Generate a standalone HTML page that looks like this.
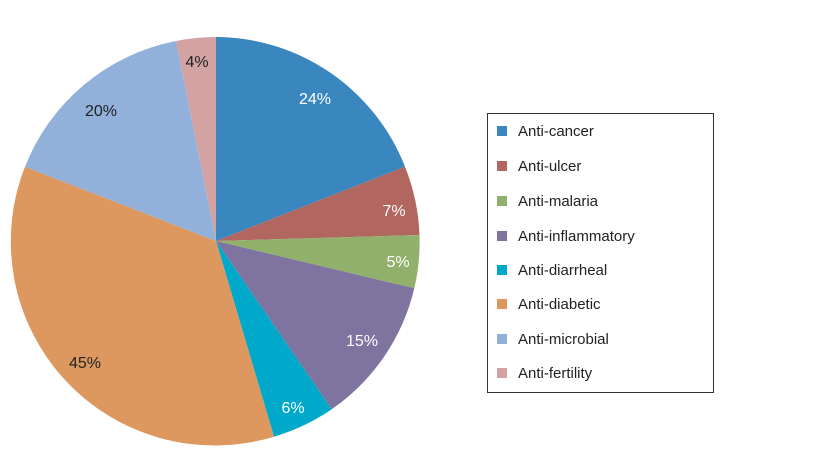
<!DOCTYPE html>
<html><head><style>
body{margin:0;background:#fff;}
svg{display:block;}
text{font-family:"Liberation Sans",Arial,sans-serif;}
</style></head><body>
<svg width="816" height="454" viewBox="0 0 816 454">
<g stroke="none">
<path d="M216,241 L216,37 A204,204 0 0 1 405,166.7 Z" fill="#3a87bf"/>
<path d="M216,241 L405,166.7 A204,204 0 0 1 419.5,235 Z" fill="#b1665f"/>
<path d="M216,241 L419.5,235 A204,204 0 0 1 414.3,288.3 Z" fill="#90b06b"/>
<path d="M216,241 L414.3,288.3 A204,204 0 0 1 331.7,409.3 Z" fill="#7e749f"/>
<path d="M216,241 L331.7,409.3 A204,204 0 0 1 274,436.7 Z" fill="#00a8c9"/>
<path d="M216,241 L274,436.7 A204,204 0 0 1 25,166.7 Z" fill="#dc985f"/>
<path d="M216,241 L25,166.7 A204,204 0 0 1 176,41 Z" fill="#91b1da"/>
<path d="M216,241 L176,41 A204,204 0 0 1 216,37 Z" fill="#d3a3a3"/>
</g>
<g font-size="16" text-anchor="middle">
<text x="315" y="104" fill="#fff">24%</text>
<text x="394" y="216" fill="#fff">7%</text>
<text x="398" y="267" fill="#fff">5%</text>
<text x="362" y="346" fill="#fff">15%</text>
<text x="293" y="413" fill="#fff">6%</text>
<text x="85" y="368" fill="#222">45%</text>
<text x="101" y="116" fill="#222">20%</text>
<text x="197" y="67" fill="#222">4%</text>
</g>
<rect x="487.5" y="113.5" width="226" height="279" fill="#fff" stroke="#333" stroke-width="1"/>
<g font-size="15" fill="#222">
<rect x="497" y="126" width="10" height="10" fill="#3a87bf"/><text x="518" y="136">Anti-cancer</text>
<rect x="497" y="161" width="10" height="10" fill="#b1665f"/><text x="518" y="171">Anti-ulcer</text>
<rect x="497" y="196" width="10" height="10" fill="#90b06b"/><text x="518" y="206">Anti-malaria</text>
<rect x="497" y="231" width="10" height="10" fill="#7e749f"/><text x="518" y="241">Anti-inflammatory</text>
<rect x="497" y="265" width="10" height="10" fill="#00a8c9"/><text x="518" y="275">Anti-diarrheal</text>
<rect x="497" y="299" width="10" height="10" fill="#dc985f"/><text x="518" y="309">Anti-diabetic</text>
<rect x="497" y="334" width="10" height="10" fill="#91b1da"/><text x="518" y="344">Anti-microbial</text>
<rect x="497" y="368" width="10" height="10" fill="#d3a3a3"/><text x="518" y="378">Anti-fertility</text>
</g>
</svg>
</body></html>
